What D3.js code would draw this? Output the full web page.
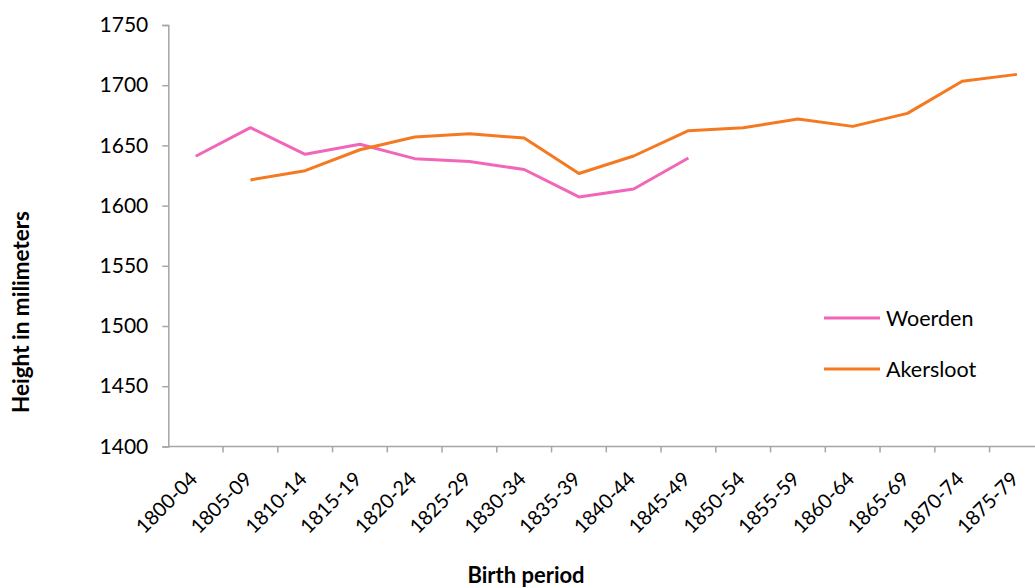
<!DOCTYPE html>
<html>
<head>
<meta charset="utf-8">
<script src="https://cdn.jsdelivr.net/npm/d3@7"></script>
<style>
  html, body { margin: 0; padding: 0; background: #fff; }
  svg { display: block; font-family: Lato, "Open Sans", sans-serif; }
</style>
</head>
<body>
<svg id="chart" width="1035" height="588"></svg>
<script>
const categories = ["1800-04","1805-09","1810-14","1815-19","1820-24","1825-29","1830-34","1835-39","1840-44","1845-49","1850-54","1855-59","1860-64","1865-69","1870-74","1875-79"];
const woerden = [1641, 1664.7, 1642.6, 1651, 1639, 1636.6, 1630, 1607.2, 1613.8, 1639.5, null, null, null, null, null, null];
const akersloot = [null, 1621.3, 1629, 1646.4, 1657, 1659.7, 1656.1, 1626.7, 1641.2, 1662.2, 1664.7, 1671.9, 1665.8, 1676.6, 1703.3, 1709];
const yTicks = [1400, 1450, 1500, 1550, 1600, 1650, 1700, 1750];
const seriesNames = ["Woerden", "Akersloot"];
const colors = ["#F266B9", "#F47920"];

const svg = d3.select("#chart");
const mLeft = 168.3, mRight = 168.3 + 16 * 54.75, mTop = 25, mBottom = 446.4;

const x = d3.scaleBand().domain(categories).range([mLeft, mRight]).padding(0);
const y = d3.scaleLinear().domain([1400, 1750]).range([mBottom, mTop]);
const axisColor = "#A6A6A6";

// Y axis
const yAxis = svg.append("g").attr("transform", `translate(${mLeft},0)`)
  .call(d3.axisLeft(y).tickValues(yTicks).tickSize(6).tickPadding(14).tickFormat(d3.format("d")));
yAxis.select(".domain").attr("stroke", axisColor).attr("stroke-width", 1.5);
yAxis.selectAll(".tick line").attr("stroke", axisColor).attr("stroke-width", 1.5);
yAxis.selectAll(".tick text").attr("fill", "#000").style("font-size", "21px").style("font-family", "Lato, sans-serif");

// X axis
const xAxisG = svg.append("g").attr("transform", `translate(0,${mBottom})`);
xAxisG.append("line").attr("x1", mLeft).attr("x2", mRight).attr("y1", 0).attr("y2", 0)
  .attr("stroke", axisColor).attr("stroke-width", 1.5);
xAxisG.selectAll("line.tk").data(categories.slice(1)).enter().append("line").attr("class", "tk")
  .attr("x1", d => x(d)).attr("x2", d => x(d)).attr("y1", 0).attr("y2", 6)
  .attr("stroke", axisColor).attr("stroke-width", 1.5);
xAxisG.selectAll("text.lbl").data(categories).enter().append("text").attr("class", "lbl")
  .attr("transform", d => `translate(${x(d) + x.bandwidth() / 2 + 3},${34}) rotate(-45)`)
  .attr("text-anchor", "end")
  .style("font-size", "20px").attr("fill", "#000").text(d => d);

// Lines
const line = d3.line().defined(d => d.v != null)
  .x(d => x(d.c) + x.bandwidth() / 2).y(d => y(d.v));
[woerden, akersloot].forEach((vals, i) => {
  svg.append("path")
    .datum(categories.map((c, j) => ({ c, v: vals[j] })))
    .attr("fill", "none").attr("stroke", colors[i]).attr("stroke-width", 3)
    .attr("stroke-linejoin", "round").attr("d", line);
});

// Legend
const legendY = [318, 369];
seriesNames.forEach((n, i) => {
  svg.append("line").attr("x1", 824).attr("x2", 880).attr("y1", legendY[i]).attr("y2", legendY[i])
    .attr("stroke", colors[i]).attr("stroke-width", 3);
  svg.append("text").attr("x", 886).attr("y", legendY[i]).attr("dy", "0.36em")
    .style("font-size", "21.5px").attr("fill", "#000").text(n);
});

// Axis titles
svg.append("text").attr("x", 526).attr("y", 583).attr("text-anchor", "middle")
  .style("font-size", "22px").style("font-weight", "bold").text("Birth period");
svg.append("text").attr("transform", "translate(29,312) rotate(-90)").attr("text-anchor", "middle")
  .style("font-size", "22.5px").style("font-weight", "bold").text("Height in milimeters");
</script>
</body>
</html>
